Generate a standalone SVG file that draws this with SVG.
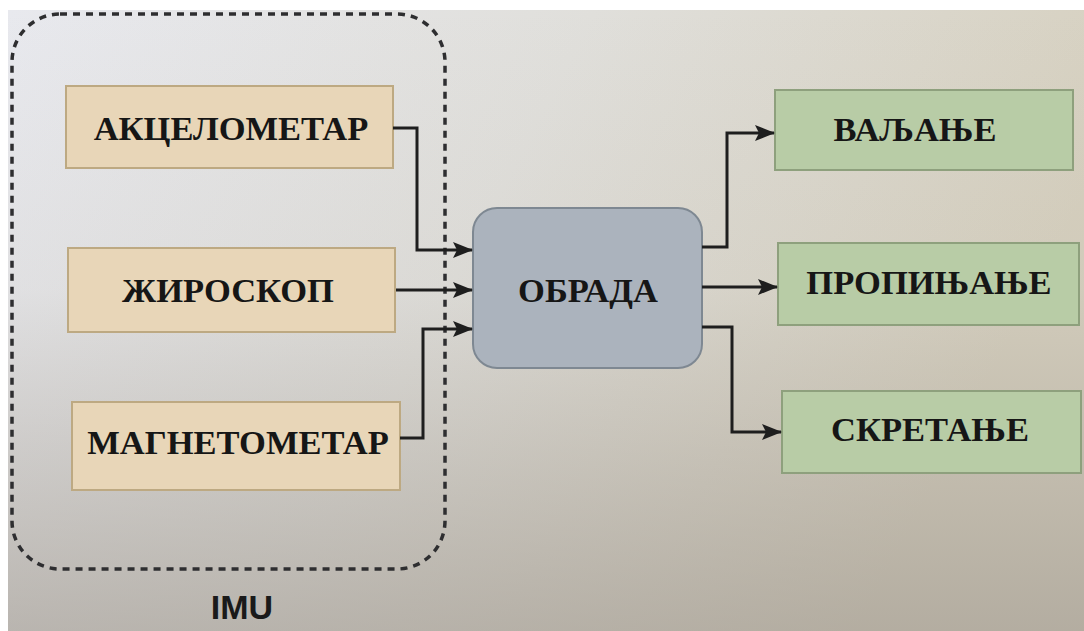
<svg xmlns="http://www.w3.org/2000/svg" width="1084" height="631" viewBox="0 0 1084 631">
  <defs>
    <linearGradient id="paper" x1="0" y1="0" x2="1" y2="0.3">
      <stop offset="0" stop-color="#e8e9ee"/>
      <stop offset="0.5" stop-color="#e0dfdb"/>
      <stop offset="1" stop-color="#d6d0bf"/>
    </linearGradient>
    <linearGradient id="shade" x1="0" y1="0" x2="0" y2="1">
      <stop offset="0" stop-color="#9d968d" stop-opacity="0"/>
      <stop offset="0.45" stop-color="#9d968d" stop-opacity="0.08"/>
      <stop offset="1" stop-color="#9d968d" stop-opacity="0.6"/>
    </linearGradient>
    <marker id="arrow" viewBox="0 0 20 16" refX="19" refY="8" markerWidth="20" markerHeight="16" markerUnits="userSpaceOnUse" orient="auto">
      <path d="M0,0 L20,8 L0,16 L4,8 z" fill="#1e1e1e"/>
    </marker>
    <style>
      .label { font-family: "Liberation Serif", "Times New Roman", serif; font-weight: bold; font-size: 34.5px; fill: #161616; text-anchor: middle; dominant-baseline: central; }
      .sensor rect { fill: #e8d6b8; stroke: #bda982; stroke-width: 2; }
      .output rect { fill: #b8cca6; stroke: #8ea07d; stroke-width: 2; }
      .proc rect { fill: #abb3bd; stroke: #7e8892; stroke-width: 2; }
      .wire { fill: none; stroke: #1e1e1e; stroke-width: 3; marker-end: url(#arrow); }
      .frame { fill: none; stroke: #2e2e30; stroke-width: 3.5; stroke-dasharray: 7 6; }
      .imu { font-family: "Liberation Sans", Arial, sans-serif; font-weight: bold; font-size: 34px; fill: #1a1a1a; text-anchor: middle; }
    </style>
  </defs>

  <!-- page margin and paper -->
  <rect x="0" y="0" width="1084" height="631" fill="#ffffff"/>
  <rect x="8" y="10" width="1076" height="621" fill="url(#paper)"/>
  <rect x="8" y="10" width="1076" height="621" fill="url(#shade)"/>

  <!-- IMU boundary -->
  <g id="imu-group">
    <rect class="frame" x="12" y="14" width="433" height="555" rx="48" ry="48"/>
    <text class="imu" x="242" y="619">IMU</text>
  </g>

  <!-- sensor blocks -->
  <g id="accelerometer" class="sensor">
    <rect x="66" y="86" width="327" height="82"/>
    <text class="label" x="231" y="128">АКЦЕЛОМЕТАР</text>
  </g>
  <g id="gyroscope" class="sensor">
    <rect x="68" y="248" width="327" height="84"/>
    <text class="label" x="228" y="290">ЖИРОСКОП</text>
  </g>
  <g id="magnetometer" class="sensor">
    <rect x="72" y="402" width="328" height="88"/>
    <text class="label" x="238" y="442">МАГНЕТОМЕТАР</text>
  </g>

  <!-- processing block -->
  <g id="processing" class="proc">
    <rect x="473" y="208" width="229" height="160" rx="24" ry="24"/>
    <text class="label" x="588" y="290">ОБРАДА</text>
  </g>

  <!-- output blocks -->
  <g id="roll" class="output">
    <rect x="775" y="90" width="298" height="80"/>
    <text class="label" x="915" y="129">ВАЉАЊЕ</text>
  </g>
  <g id="pitch" class="output">
    <rect x="778" y="243" width="301" height="82"/>
    <text class="label" x="929" y="282">ПРОПИЊАЊЕ</text>
  </g>
  <g id="yaw" class="output">
    <rect x="782" y="391" width="299" height="82"/>
    <text class="label" x="930" y="429">СКРЕТАЊЕ</text>
  </g>

  <!-- connectors -->
  <g id="connectors">
    <path class="wire" d="M393,128 H417 V250 H472"/>
    <path class="wire" d="M396,290 H472"/>
    <path class="wire" d="M400,438 H423 V329 H472"/>
    <path class="wire" d="M702,247 H727 V133 H774"/>
    <path class="wire" d="M702,287 H777"/>
    <path class="wire" d="M702,327 H732 V432 H781"/>
  </g>
</svg>
